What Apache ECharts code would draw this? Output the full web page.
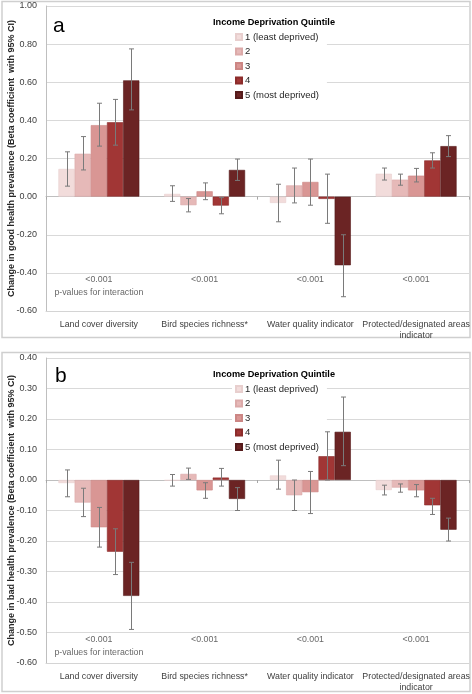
<!DOCTYPE html>
<html><head><meta charset="utf-8">
<script src="https://cdn.jsdelivr.net/npm/echarts@6/dist/echarts.min.js"></script>
<style>html,body{margin:0;padding:0;background:#fff}#c{width:472px;height:694px}</style>
</head><body><div id="c"></div>
<script>
const categories = ['Land cover diversity', 'Bird species richness*', 'Water quality indicator', 'Protected/designated areas\nindicator'];
const quintiles = ['1 (least deprived)', '2', '3', '4', '5 (most deprived)'];
const pValues = ['<0.001', '<0.001', '<0.001', '<0.001'];
const pNote = 'p-values for interaction';

// Panel a: change in good health prevalence
const goodQ1 = [0.145, 0.014, -0.033, 0.12];
const goodQ2 = [0.225, -0.045, 0.059, 0.089];
const goodQ3 = [0.375, 0.028, 0.077, 0.11];
const goodQ4 = [0.39, -0.047, -0.012, 0.19];
const goodQ5 = [0.61, 0.14, -0.36, 0.265];
const goodQ1Lo = [0.055, -0.025, -0.132, 0.087], goodQ1Hi = [0.235, 0.057, 0.065, 0.15];
const goodQ2Lo = [0.14, -0.08, -0.033, 0.06], goodQ2Hi = [0.315, -0.01, 0.15, 0.118];
const goodQ3Lo = [0.265, -0.016, -0.045, 0.077], goodQ3Hi = [0.49, 0.072, 0.197, 0.148];
const goodQ4Lo = [0.27, -0.09, -0.14, 0.15], goodQ4Hi = [0.51, -0.005, 0.118, 0.23];
const goodQ5Lo = [0.455, 0.085, -0.525, 0.21], goodQ5Hi = [0.775, 0.197, -0.2, 0.32];

// Panel b: change in bad health prevalence
const badQ1 = [-0.01, -0.002, 0.015, -0.033];
const badQ2 = [-0.074, 0.02, -0.05, -0.025];
const badQ3 = [-0.155, -0.034, -0.04, -0.034];
const badQ4 = [-0.235, 0.008, 0.078, -0.083];
const badQ5 = [-0.38, -0.062, 0.158, -0.163];
const badQ1Lo = [-0.055, -0.02, -0.03, -0.049], badQ1Hi = [0.033, 0.018, 0.065, -0.017];
const badQ2Lo = [-0.12, 0.002, -0.1, -0.04], badQ2Hi = [-0.027, 0.039, 0.0, -0.013];
const badQ3Lo = [-0.22, -0.06, -0.11, -0.055], badQ3Hi = [-0.09, -0.009, 0.028, -0.015];
const badQ4Lo = [-0.31, -0.02, 0.0, -0.113], badQ4Hi = [-0.16, 0.038, 0.158, -0.06];
const badQ5Lo = [-0.49, -0.1, 0.047, -0.2], badQ5Hi = [-0.27, -0.025, 0.272, -0.125];

const goodVals = [goodQ1, goodQ2, goodQ3, goodQ4, goodQ5];
const goodLo = [goodQ1Lo, goodQ2Lo, goodQ3Lo, goodQ4Lo, goodQ5Lo];
const goodHi = [goodQ1Hi, goodQ2Hi, goodQ3Hi, goodQ4Hi, goodQ5Hi];
const badVals = [badQ1, badQ2, badQ3, badQ4, badQ5];
const badLo = [badQ1Lo, badQ2Lo, badQ3Lo, badQ4Lo, badQ5Lo];
const badHi = [badQ1Hi, badQ2Hi, badQ3Hi, badQ4Hi, badQ5Hi];

const colors = ['#f2dcdb', '#e6b9b8', '#d99694', '#a13635', '#6b2424'];
const borders = ['#e8cfce', '#dcaaa9', '#cc8684', '#8c2c2b', '#551b1b'];
const FONT = 'Liberation Sans, Arial, sans-serif';
const CAT_GAP = 0.235;

const chart = echarts.init(document.getElementById('c'), null, {renderer: 'canvas'});

function barSeries(vals, gi) {
  return vals.map((v, s) => ({
    type: 'bar', name: quintiles[s], xAxisIndex: gi, yAxisIndex: gi,
    data: v, barGap: '0%', barCategoryGap: (CAT_GAP * 100) + '%',
    itemStyle: {color: colors[s], borderColor: borders[s], borderWidth: 0.6},
    z: 2
  }));
}
function errSeries(lo, hi, gi) {
  const data = [];
  for (let s = 0; s < 5; s++) for (let c = 0; c < 4; c++) data.push([c, lo[s][c], hi[s][c], s]);
  return {
    type: 'custom', xAxisIndex: gi, yAxisIndex: gi, z: 5, silent: true,
    encode: {x: 0, y: [1, 2]},
    data,
    renderItem(params, api) {
      const c = api.value(0), s = api.value(3);
      const band = api.size([1, 0])[0];
      const gw = band * (1 - CAT_GAP), bw = gw / 5;
      const p1 = api.coord([c, api.value(1)]);
      const p2 = api.coord([c, api.value(2)]);
      const x = Math.round(p1[0] - gw / 2 + bw * (s + 0.5)) + 0.5;
      const cap = 2.5;
      const st = {stroke: '#7a7a7a', lineWidth: 1};
      return {type: 'group', children: [
        {type: 'line', shape: {x1: x, y1: p1[1], x2: x, y2: p2[1]}, style: st},
        {type: 'line', shape: {x1: x - cap, y1: p1[1], x2: x + cap, y2: p1[1]}, style: st},
        {type: 'line', shape: {x1: x - cap, y1: p2[1], x2: x + cap, y2: p2[1]}, style: st}
      ]};
    }
  };
}
function pSeries(gi, yP, yNote) {
  const data = pValues.map((t, c) => ({value: [c, yP], name: t}));
  data.push({value: [0, yNote], name: pNote});
  return {
    type: 'scatter', xAxisIndex: gi, yAxisIndex: gi, symbolSize: 1, silent: true,
    itemStyle: {color: 'transparent'}, z: 6,
    label: {show: true, position: 'inside', formatter: p => p.name, fontSize: 8.8, color: '#404040', fontFamily: FONT},
    data
  };
}
function xAx(gi) {
  return {
    gridIndex: gi, type: 'category', data: categories,
    axisLine: {onZero: false, lineStyle: {color: '#d4d4d4'}}, axisTick: {show: false},
    axisLabel: {interval: 0, fontSize: 8.8, color: '#404040', fontFamily: FONT, margin: 8, lineHeight: 11}
  };
}
function xTickAx(gi) {
  return {
    gridIndex: gi, type: 'category', data: categories, position: 'bottom',
    axisLine: {onZero: true, lineStyle: {color: '#bfbfbf'}},
    axisTick: {show: true, length: 3, lineStyle: {color: '#a6a6a6'}},
    axisLabel: {show: false}, splitLine: {show: false}
  };
}
function yAx(gi, min, max, interval, name) {
  return {
    gridIndex: gi, type: 'value', min, max, interval,
    name, nameLocation: 'middle', nameRotate: 90, nameGap: 34, nameMoveOverlap: false,
    nameTextStyle: {fontSize: 9, fontWeight: 'bold', color: '#262626', fontFamily: FONT, verticalAlign: 'middle'},
    axisLine: {show: true, lineStyle: {color: '#bfbfbf'}}, axisTick: {show: false},
    axisLabel: {formatter: v => v.toFixed(2), fontSize: 9, color: '#404040', fontFamily: FONT, margin: 9},
    splitLine: {lineStyle: {color: '#d9d9d9'}}
  };
}
function legend(top) {
  return {
    data: quintiles, orient: 'vertical', left: 232, top, itemWidth: 6, itemHeight: 6, itemGap: 4.5,
    padding: [3, 8, 3, 3], backgroundColor: '#ffffff', icon: 'rect',
    textStyle: {fontSize: 9.5, color: '#262626', fontFamily: FONT, padding: [0, 0, 0, -2]}
  };
}

const option = {
  animation: false,
  graphic: [
    {type: 'rect', shape: {x: 2, y: 1.5, width: 468, height: 336}, style: {fill: 'none', stroke: '#cfcfcf', lineWidth: 1.5}, z: -10},
    {type: 'rect', shape: {x: 2, y: 352.5, width: 468, height: 339}, style: {fill: 'none', stroke: '#cfcfcf', lineWidth: 1.5}, z: -10}
  ],
  title: [
    {text: 'a', left: 48, top: 11, textStyle: {fontSize: 21, fontWeight: 'normal', color: '#000', fontFamily: FONT}},
    {text: 'b', left: 50, top: 361, textStyle: {fontSize: 21, fontWeight: 'normal', color: '#000', fontFamily: FONT}},
    {text: 'Income Deprivation Quintile', left: 208, top: 13, textStyle: {fontSize: 9.2, fontWeight: 'bold', color: '#000', fontFamily: FONT}},
    {text: 'Income Deprivation Quintile', left: 208, top: 365, textStyle: {fontSize: 9.2, fontWeight: 'bold', color: '#000', fontFamily: FONT}}
  ],
  legend: [legend(29), legend(381)],
  grid: [
    {left: 46, right: 3, top: 6, bottom: 383, outerBoundsMode: 'none', containLabel: false},
    {left: 46, right: 3, top: 358, bottom: 31, outerBoundsMode: 'none', containLabel: false}
  ],
  xAxis: [xAx(0), xAx(1), xTickAx(0), xTickAx(1)],
  yAxis: [
    yAx(0, -0.6, 1.0, 0.2, 'Change in good health prevalence (Beta coefficient  with 95% CI)'),
    yAx(1, -0.6, 0.4, 0.1, 'Change in bad health prevalence (Beta coefficient  with 95% CI)')
  ],
  series: [
    ...barSeries(goodVals, 0),
    errSeries(goodLo, goodHi, 0),
    pSeries(0, -0.433, -0.505),
    ...barSeries(badVals, 1),
    errSeries(badLo, badHi, 1),
    pSeries(1, -0.524, -0.565)
  ]
};
chart.setOption(option);
</script></body></html>
